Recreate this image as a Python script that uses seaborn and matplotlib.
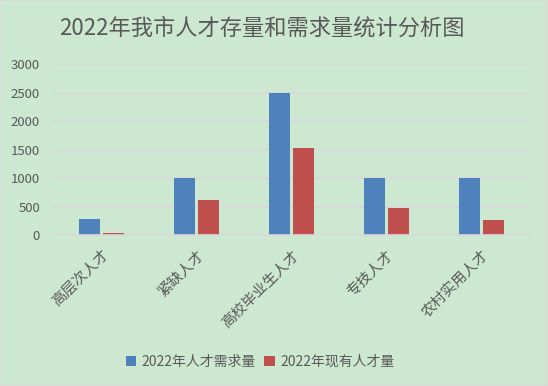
import matplotlib
matplotlib.use("Agg")
import matplotlib.pyplot as plt
import seaborn as sns
import pandas as pd

categories = ['高层次人才', '紧缺人才', '高校毕业生人才', '专技人才', '农村实用人才']
demand = [290, 1000, 2500, 1000, 1000]
existing = [30, 620, 1520, 480, 265]
series_names = ['2022年人才需求量', '2022年现有人才量']
y_ticks = [0, 500, 1000, 1500, 2000, 2500, 3000]

sns.set_theme(style="white")
plt.rcParams['font.family'] = ['Noto Sans CJK SC', 'DejaVu Sans']

bg = '#CDE8D0'
txt = '#595959'

df = pd.DataFrame({
    'cat': categories * 2,
    'val': demand + existing,
    'serie': [series_names[0]] * len(categories) + [series_names[1]] * len(categories),
})

fig = plt.figure(figsize=(5.48, 3.86), dpi=100, facecolor=bg)
ax = fig.add_axes([0.0985, 0.391, 0.8665, 0.443])
ax.set_facecolor(bg)

sns.barplot(data=df, x='cat', y='val', hue='serie', order=categories,
            hue_order=series_names, palette=['#4F81BD', '#C0504D'],
            width=0.505, gap=0.125, saturation=1, ax=ax, legend=True,
            edgecolor='none', linewidth=0)

ax.set_ylim(0, 3000)
ax.set_yticks(y_ticks)
ax.set_xlim(-0.5, len(categories) - 0.5)
ax.yaxis.grid(True, color='#D9D9D9', linewidth=1.2)
ax.set_axisbelow(True)
for s in ['top', 'right', 'left']:
    ax.spines[s].set_visible(False)
ax.spines['bottom'].set_color('#D9D9D9')
ax.spines['bottom'].set_linewidth(1.2)
ax.set_xlabel('')
ax.set_ylabel('')
ax.tick_params(axis='y', length=0, pad=10, labelsize=9.5, labelcolor=txt)
ax.tick_params(axis='x', length=0, pad=9, labelsize=10.5, labelcolor=txt)
for lab in ax.get_xticklabels():
    lab.set_rotation(45)
    lab.set_ha('right')
    lab.set_va('top')
    lab.set_rotation_mode('anchor')

handles, labels = ax.get_legend_handles_labels()
ax.get_legend().remove()
fig.legend(handles, labels, loc='center', bbox_to_anchor=(0.475, 0.062), ncol=2,
           frameon=False, fontsize=10, labelcolor=txt, handlelength=0.75,
           handleheight=0.75, handletextpad=0.4, columnspacing=0.6)

fig.text(0.477, 0.928, '2022年我市人才存量和需求量统计分析图', ha='center', va='center',
         fontsize=16, color=txt)

fig.patches.append(plt.Rectangle((0, 0), 1, 1, transform=fig.transFigure,
                                 fill=False, edgecolor='#D9D9D9', linewidth=1.5))

fig.savefig('out.png', dpi=100, facecolor=bg)
